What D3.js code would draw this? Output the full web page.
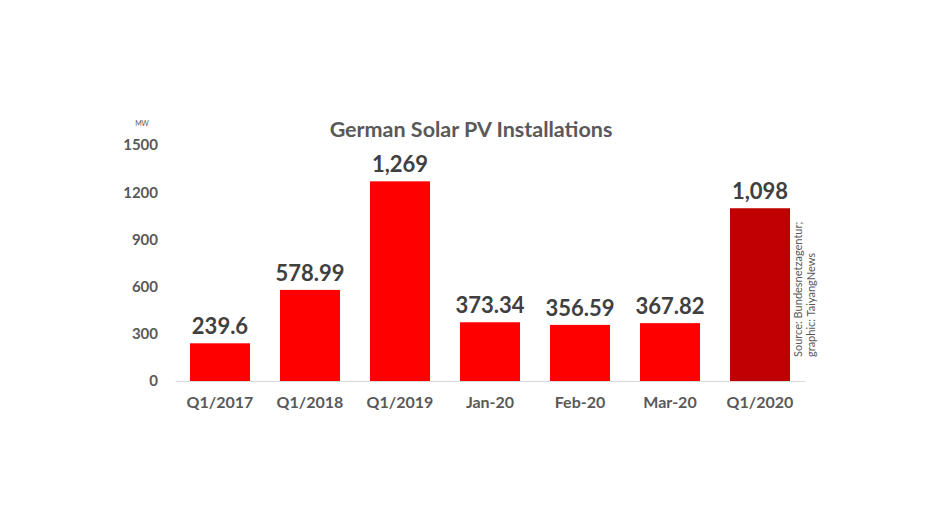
<!DOCTYPE html>
<html>
<head>
<meta charset="utf-8">
<script src="https://d3js.org/d3.v7.min.js"></script>
<style>
    body { margin: 0; background: #fff; }
    text { font-family: Lato, "Open Sans", sans-serif; }
</style>
</head>
<body>
<div id="chart"></div>
<script>
// data
const categories = ["Q1/2017", "Q1/2018", "Q1/2019", "Jan-20", "Feb-20", "Mar-20", "Q1/2020"];
const values = [239.6, 578.99, 1269, 373.34, 356.59, 367.82, 1098];
const valueLabels = ["239.6", "578.99", "1,269", "373.34", "356.59", "367.82", "1,098"];
const yTicks = [0, 300, 600, 900, 1200, 1500];
const highlight = "Q1/2020";

const W = 944, H = 531;
const margin = { top: 145, right: 139, bottom: 150, left: 175 };
const width = W - margin.left - margin.right;
const height = H - margin.top - margin.bottom;

const data = categories.map((c, i) => ({ cat: c, value: values[i], label: valueLabels[i] }));

const svg = d3.select("#chart")
    .append("svg")
    .attr("width", W)
    .attr("height", H);

const g = svg.append("g")
    .attr("transform", "translate(" + margin.left + "," + margin.top + ")");

const x = d3.scaleBand()
    .domain(categories)
    .range([0, width])
    .paddingInner(0.333)
    .paddingOuter(0.1665);

const y = d3.scaleLinear()
    .domain([0, 1500])
    .range([height, 0]);

// title
svg.append("text")
    .attr("x", 471)
    .attr("y", 137)
    .attr("text-anchor", "middle")
    .attr("font-size", 21.5)
    .attr("font-weight", "bold")
    .attr("fill", "#595959")
    .text("German Solar PV Installations");

// unit
svg.append("text")
    .attr("x", 142)
    .attr("y", 126)
    .attr("text-anchor", "middle")
    .attr("font-size", 7)
    .attr("fill", "#595959")
    .text("MW");

// y axis: labels only
const yAxis = g.append("g")
    .attr("class", "yaxis")
    .call(d3.axisLeft(y).tickValues(yTicks).tickFormat(d3.format("d")).tickSize(0).tickPadding(17));
yAxis.select(".domain").remove();
yAxis.selectAll("text")
    .attr("font-size", 15)
    .attr("font-weight", "bold")
    .attr("fill", "#595959")
    .style("font-family", "Lato, sans-serif");

// bars
g.selectAll(".bar")
    .data(data)
    .enter()
    .append("rect")
    .attr("class", "bar")
    .attr("x", d => x(d.cat))
    .attr("y", d => y(d.value))
    .attr("width", x.bandwidth())
    .attr("height", d => height - y(d.value))
    .attr("fill", d => d.cat === highlight ? "#c00000" : "#ff0000");

// x axis
const xAxis = g.append("g")
    .attr("class", "x-axis")
    .attr("transform", "translate(0," + height + ")")
    .call(d3.axisBottom(x).tickSize(0).tickPadding(16));
xAxis.select(".domain")
    .attr("stroke", "#d9d9d9")
    .attr("stroke-width", 1);
xAxis.selectAll("text")
    .attr("font-size", 16)
    .attr("font-weight", "bold")
    .attr("fill", "#595959")
    .style("font-family", "Lato, sans-serif");

// value labels
g.selectAll(".bar-text")
    .data(data)
    .enter()
    .append("text")
    .attr("class", "bar-text")
    .attr("x", d => x(d.cat) + x.bandwidth() / 2)
    .attr("y", d => y(d.value) - 9)
    .attr("text-anchor", "middle")
    .attr("font-size", 22)
    .attr("font-weight", "bold")
    .attr("fill", "#404040")
    .text(d => d.label);

// source note, vertical
const note = svg.append("text")
    .attr("transform", "translate(802,357) rotate(-90)")
    .attr("font-size", 11)
    .attr("fill", "#595959");
note.append("tspan").attr("x", 0).attr("dy", 0).text("Source: Bundesnetzagentur;");
note.append("tspan").attr("x", 0).attr("dy", "1.15em").text("graphic: TaiyangNews");
</script>
</body>
</html>
